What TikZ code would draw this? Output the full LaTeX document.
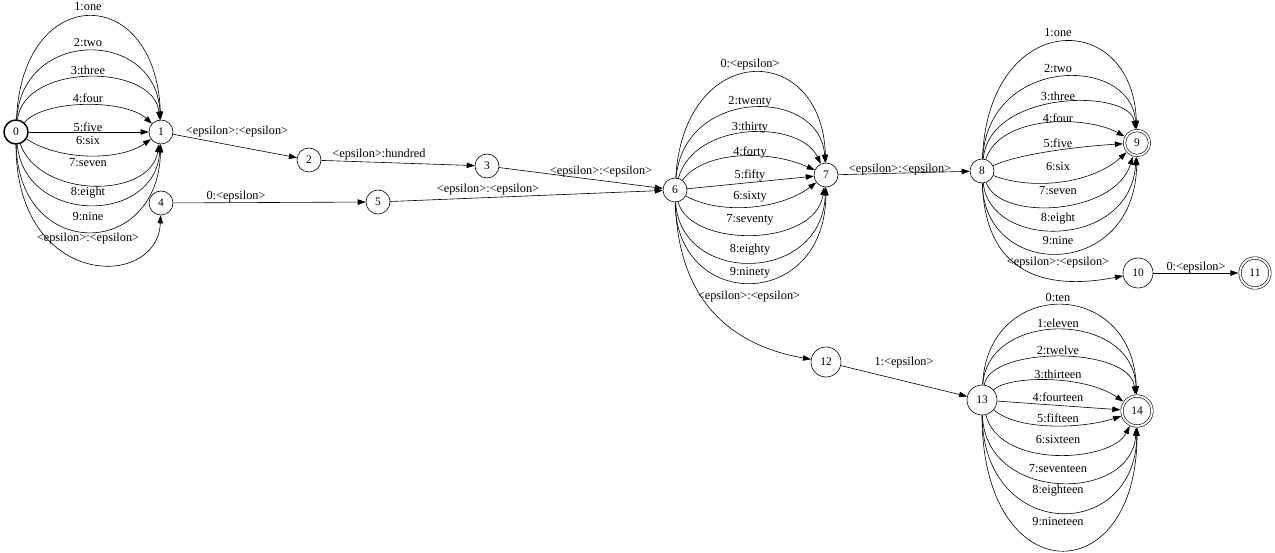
\documentclass[tikz,border=0pt]{standalone}
\usepackage{fontspec}
\setmainfont{Liberation Serif}
\usetikzlibrary{arrows.meta}
\begin{document}
\begin{tikzpicture}[x=1pt,y=-1pt,
  st/.style={circle, draw, line width=0.6pt, minimum size=24pt, inner sep=0pt, font=\fontsize{11.5}{11.5}\selectfont},
  stw/.style={st, minimum size=30pt},
  fin/.style={double, double distance=1.8pt, outer sep=1.7pt},
  arc/.style={line width=0.6pt, -{Triangle[length=8pt,width=5.5pt]}},
  lbl/.style={inner sep=0pt, font=\fontsize{12.3}{12.3}\selectfont}]
\fill[white] (0,0) rectangle (1275,553);
\useasboundingbox (0,0) rectangle (1275,553);

% states
\node[st, line width=1.5pt] (n0) at (16,132) {0};
\node[st] (n1) at (161,132) {1};
\node[st] (n2) at (309,160) {2};
\node[st] (n3) at (487,166) {3};
\node[st] (n4) at (161,203) {4};
\node[st] (n5) at (378,202) {5};
\node[st] (n6) at (675,190) {6};
\node[st] (n7) at (826,175) {7};
\node[st] (n8) at (982,171) {8};
\node[st, fin, minimum size=25pt] (n9) at (1137,143) {9};
\node[stw] (n10) at (1138,273) {10};
\node[stw, fin] (n11) at (1255,273) {11};
\node[stw] (n12) at (826,362) {12};
\node[stw] (n13) at (982,400) {13};
\node[stw, fin] (n14) at (1137,411) {14};

% 0 -> 1
\draw[arc] (n0) .. controls (22,-18) and (156,-18) .. (n1);
\draw[arc] (n0) .. controls (22,28) and (156,28) .. (n1);
\draw[arc] (n0) .. controls (24,63) and (154,63) .. (n1);
\draw[arc] (n0) .. controls (45,99) and (125,99) .. (n1);
\draw[arc] (n0) -- (n1);
\draw[arc] (n0) .. controls (60,161) and (120,161) .. (n1);
\draw[arc] (n0) .. controls (40,199) and (150,199) .. (n1);
\draw[arc] (n0) .. controls (25,225) and (155,225) .. (n1);
\draw[arc] (n0) .. controls (18,261) and (158,261) .. (n1);
\draw[arc] (n0) .. controls (16,290) and (158,290) .. (n4);
\node[lbl] (a1) at (88,7) {1:one};
\node[lbl] (a2) at (88,43) {2:two};
\node[lbl] (a3) at (88,70) {3:three};
\node[lbl] (a4) at (88,98) {4:four};
\node[lbl] (a5) at (88,127) {5:five};
\node[lbl] (a6) at (88,141) {6:six};
\node[lbl] (a7) at (88,163) {7:seven};
\node[lbl] (a8) at (88,193) {8:eight};
\node[lbl] (a9) at (88,217) {9:nine};
\node[lbl] (a0) at (88,239) {<epsilon>:<epsilon>};

% chain
\draw[arc] (n1) -- (n2);
\node[lbl] (b12) at (237,132) {<epsilon>:<epsilon>};
\draw[arc] (n2) -- (n3);
\node[lbl] (b23) at (379,155) {<epsilon>:hundred};
\draw[arc] (n3) -- (n6);
\node[lbl] (b36) at (601,172) {<epsilon>:<epsilon>};
\draw[arc] (n4) -- (n5);
\node[lbl] (b45) at (236,197) {0:<epsilon>};
\draw[arc] (n5) -- (n6);
\node[lbl] (b56) at (488,190) {<epsilon>:<epsilon>};
\draw[arc] (n7) -- (n8);
\node[lbl] (b78) at (900,170) {<epsilon>:<epsilon>};
\draw[arc] (n10) -- (n11);
\node[lbl] (b1011) at (1196,268) {0:<epsilon>};
\draw[arc] (n12) -- (n13);
\node[lbl] (b1213) at (904,363) {1:<epsilon>};

% 6 -> 7
\draw[arc] (n6) .. controls (684,40) and (822,40) .. (n7);
\draw[arc] (n6) .. controls (684,87) and (820,87) .. (n7);
\draw[arc] (n6) .. controls (695,120) and (800,120) .. (n7);
\draw[arc] (n6) .. controls (705,150) and (770,150) .. (n7);
\draw[arc] (n6) -- (n7);
\draw[arc] (n6) .. controls (720,215) and (780,210) .. (n7);
\draw[arc] (n6) .. controls (690,248) and (815,248) .. (n7);
\draw[arc] (n6) .. controls (680,285) and (822,285) .. (n7);
\draw[arc] (n6) .. controls (676,312) and (825,312) .. (n7);
\draw[arc] (n6) .. controls (678,300) and (730,345) .. (n12);
\node[lbl] (c0) at (750,65) {0:<epsilon>};
\node[lbl] (c2) at (750,102) {2:twenty};
\node[lbl] (c3) at (750,128) {3:thirty};
\node[lbl] (c4) at (750,152) {4:forty};
\node[lbl] (c5) at (750,175) {5:fifty};
\node[lbl] (c6) at (750,197) {6:sixty};
\node[lbl] (c7) at (750,220) {7:seventy};
\node[lbl] (c8) at (750,250) {8:eighty};
\node[lbl] (c9) at (750,273) {9:ninety};
\node[lbl] (ce) at (749,297) {<epsilon>:<epsilon>};

% 8 -> 9
\draw[arc] (n8) .. controls (988,8) and (1133,8) .. (n9);
\draw[arc] (n8) .. controls (988,55) and (1131,55) .. (n9);
\draw[arc] (n8) .. controls (990,89) and (1130,89) .. (n9);
\draw[arc] (n8) .. controls (1000,115) and (1085,115) .. (n9);
\draw[arc] (n8) .. controls (1020,153) and (1085,146) .. (n9);
\draw[arc] (n8) .. controls (1030,190) and (1090,185) .. (n9);
\draw[arc] (n8) .. controls (1000,222) and (1115,215) .. (n9);
\draw[arc] (n8) .. controls (990,250) and (1130,250) .. (n9);
\draw[arc] (n8) .. controls (984,281) and (1135,281) .. (n9);
\draw[arc] (n8) .. controls (985,270) and (1040,292) .. (n10);
\node[lbl] (d1) at (1058,33) {1:one};
\node[lbl] (d2) at (1058,69) {2:two};
\node[lbl] (d3) at (1058,96) {3:three};
\node[lbl] (d4) at (1058,118) {4:four};
\node[lbl] (d5) at (1058,143) {5:five};
\node[lbl] (d6) at (1058,167) {6:six};
\node[lbl] (d7) at (1058,191) {7:seven};
\node[lbl] (d8) at (1058,219) {8:eight};
\node[lbl] (d9) at (1058,241) {9:nine};
\node[lbl] (de) at (1058,263) {<epsilon>:<epsilon>};

% 13 -> 14
\draw[arc] (n13) .. controls (987,277) and (1133,277) .. (n14);
\draw[arc] (n13) .. controls (987,310) and (1133,310) .. (n14);
\draw[arc] (n13) .. controls (990,346) and (1130,346) .. (n14);
\draw[arc] (n13) .. controls (1010,375) and (1085,375) .. (n14);
\draw[arc] (n13) -- (n14);
\draw[arc] (n13) .. controls (1020,432) and (1085,428) .. (n14);
\draw[arc] (n13) .. controls (1000,470) and (1112,462) .. (n14);
\draw[arc] (n13) .. controls (985,503) and (1132,503) .. (n14);
\draw[arc] (n13) .. controls (983,543) and (1136,543) .. (n14);
\draw[arc] (n13) .. controls (982,593) and (1137,593) .. (n14);
\node[lbl] (e0) at (1058,297) {0:ten};
\node[lbl] (e1) at (1058,323) {1:eleven};
\node[lbl] (e2) at (1058,350) {2:twelve};
\node[lbl] (e3) at (1058,374) {3:thirteen};
\node[lbl] (e4) at (1058,397) {4:fourteen};
\node[lbl] (e5) at (1058,418) {5:fifteen};
\node[lbl] (e6) at (1058,440) {6:sixteen};
\node[lbl] (e7) at (1058,469) {7:seventeen};
\node[lbl] (e8) at (1058,491) {8:eighteen};
\node[lbl] (e9) at (1058,522) {9:nineteen};
\end{tikzpicture}
\end{document}
